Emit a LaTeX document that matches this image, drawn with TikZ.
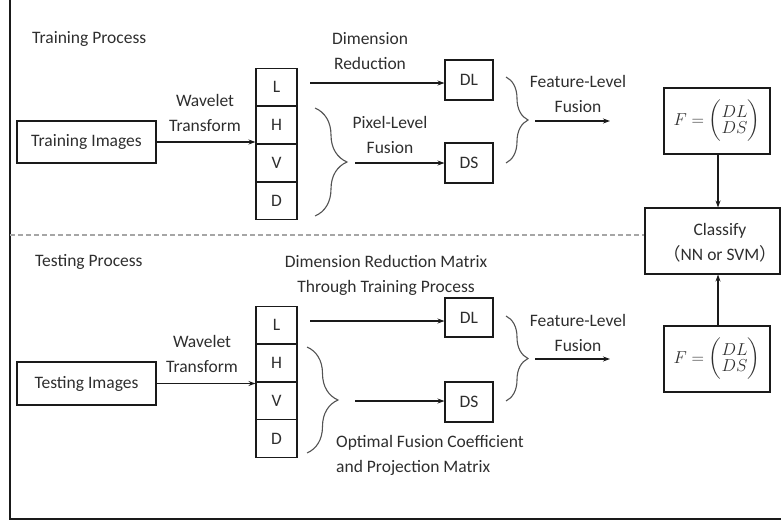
\documentclass[tikz,border=0pt]{standalone}
\usepackage{amsmath}
\usepackage{fontspec}
\setmainfont{Carlito}
\newfontfamily\cjkfont{Noto Sans CJK SC}
\usetikzlibrary{arrows.meta,decorations.pathreplacing}
\definecolor{ink}{HTML}{1A1A1A}
\definecolor{txt}{HTML}{2E2E2E}
\tikzset{
  box/.style={draw=ink, line width=1.1pt, inner sep=0pt, text=txt, font=\fontsize{17.5}{25}\selectfont},
  band/.style={box, minimum width=41pt, minimum height=37.8pt},
  lbl/.style={text=txt, align=center, inner sep=0pt, font=\fontsize{17.5}{25}\selectfont},
  arr/.style={draw=ink, line width=1.1pt, -{Stealth[length=7pt,width=5pt]}},
  formula/.style={box, minimum width=106pt, minimum height=66pt, font=\fontsize{17}{20}\selectfont},
  curly/.style={draw=ink!75, line width=1.1pt, decorate, decoration={brace, amplitude=#1}},
}
\newcommand{\fvec}{$F=\left(\begin{array}{@{}c@{}}DL\\[-4pt]DS\end{array}\right)$}
\begin{document}
\begin{tikzpicture}[x=1pt,y=-1pt]
\useasboundingbox (0,0) rectangle (781,522);
% outer frame (left and bottom edges)
\draw[ink, line width=1.5pt] (10,0) -- (10,519) -- (781,519);
% separator between the two processes
\draw[gray!70, line width=1.1pt, dash pattern=on 5pt off 3pt] (10,235) -- (645,235);

% ---------------- training ----------------
\node[lbl, anchor=west] (trtitle) at (32,39) {Training Process};
\node[box, minimum width=139pt, minimum height=42pt] (trimg) at (86.5,142) {Training Images};
\node[band] (tL) at (276.5,87) {L};
\node[band] (tH) at (276.5,125) {H};
\node[band] (tV) at (276.5,163) {V};
\node[band] (tD) at (276.5,201) {D};
\node[lbl] (twt) at (205,113) {Wavelet\\Transform};
\draw[arr] (trimg.east) -- (trimg.east -| tV.west);

\node[box, minimum width=48pt, minimum height=40pt] (tDL) at (469,80) {DL};
\node[box, minimum width=48pt, minimum height=40pt] (tDS) at (469,163) {DS};
\node[lbl] (tdr) at (370,51) {Dimension\\Reduction};
\coordinate (tLo) at (310,83);
\draw[arr] (tLo) -- (tLo -| tDL.west);
\draw[curly=32pt] (315,108) -- (315,216);
\coordinate (tpo) at (355,163);
\node[lbl] (tpf) at (390,135) {Pixel-Level\\Fusion};
\draw[arr] (tpo) -- (tpo -| tDS.west);

\draw[curly=22pt] (506,77) -- (506,163);
\node[lbl] (tff) at (578,93.5) {Feature-Level\\Fusion};
\coordinate (tfo) at (535,121);
\coordinate (tfe) at (610,121);
\draw[arr] (tfo) -- (tfe);

\node[formula] (tF) at (717,121) {\fvec};
\node[box, minimum width=135pt, minimum height=66pt] (cls) at (712.5,241) {};
\node[lbl] (clst) at (720,243) {Classify\\{\cjkfont （}NN or SVM{\cjkfont ）}};
\draw[arr] (tF.south -| 718,0) -- (cls.north -| 718,0);

% ---------------- testing ----------------
\node[lbl, anchor=west] (tetitle) at (35,262) {Testing Process};
\node[box, minimum width=139pt, minimum height=43pt] (teimg) at (86.5,383.5) {Testing Images};
\node[band] (eL) at (276.5,325) {L};
\node[band] (eH) at (276.5,363) {H};
\node[band] (eV) at (276.5,401) {V};
\node[band] (eD) at (276.5,438.5) {D};
\node[lbl] (ewt) at (202,354) {Wavelet\\Transform};
\draw[arr] (teimg.east) -- (teimg.east -| eH.south west);

\node[box, minimum width=48pt, minimum height=39pt] (eDL) at (469,317.5) {DL};
\node[box, minimum width=48pt, minimum height=40pt] (eDS) at (469,402) {DS};
\node[lbl] (edr) at (386,275.5) {Dimension Reduction Matrix\\Through Training Process};
\coordinate (eLo) at (310,321);
\draw[arr] (eLo) -- (eLo -| eDL.west);
\draw[curly=31pt] (307,347) -- (307,453);
\coordinate (epo) at (355,401);
\draw[arr] (epo) -- (epo -| eDS.west);
\node[lbl, align=left, anchor=west] (eof) at (336,455) {Optimal Fusion Coefficient\\and Projection Matrix};

\draw[curly=22pt] (506,316) -- (506,401);
\node[lbl] (eff) at (578,332.5) {Feature-Level\\Fusion};
\coordinate (efo) at (535,359);
\coordinate (efe) at (610,359);
\draw[arr] (efo) -- (efe);

\node[formula] (eF) at (717,359) {\fvec};
\draw[arr] (eF.north -| 718,0) -- (cls.south -| 718,0);
\end{tikzpicture}
\end{document}
